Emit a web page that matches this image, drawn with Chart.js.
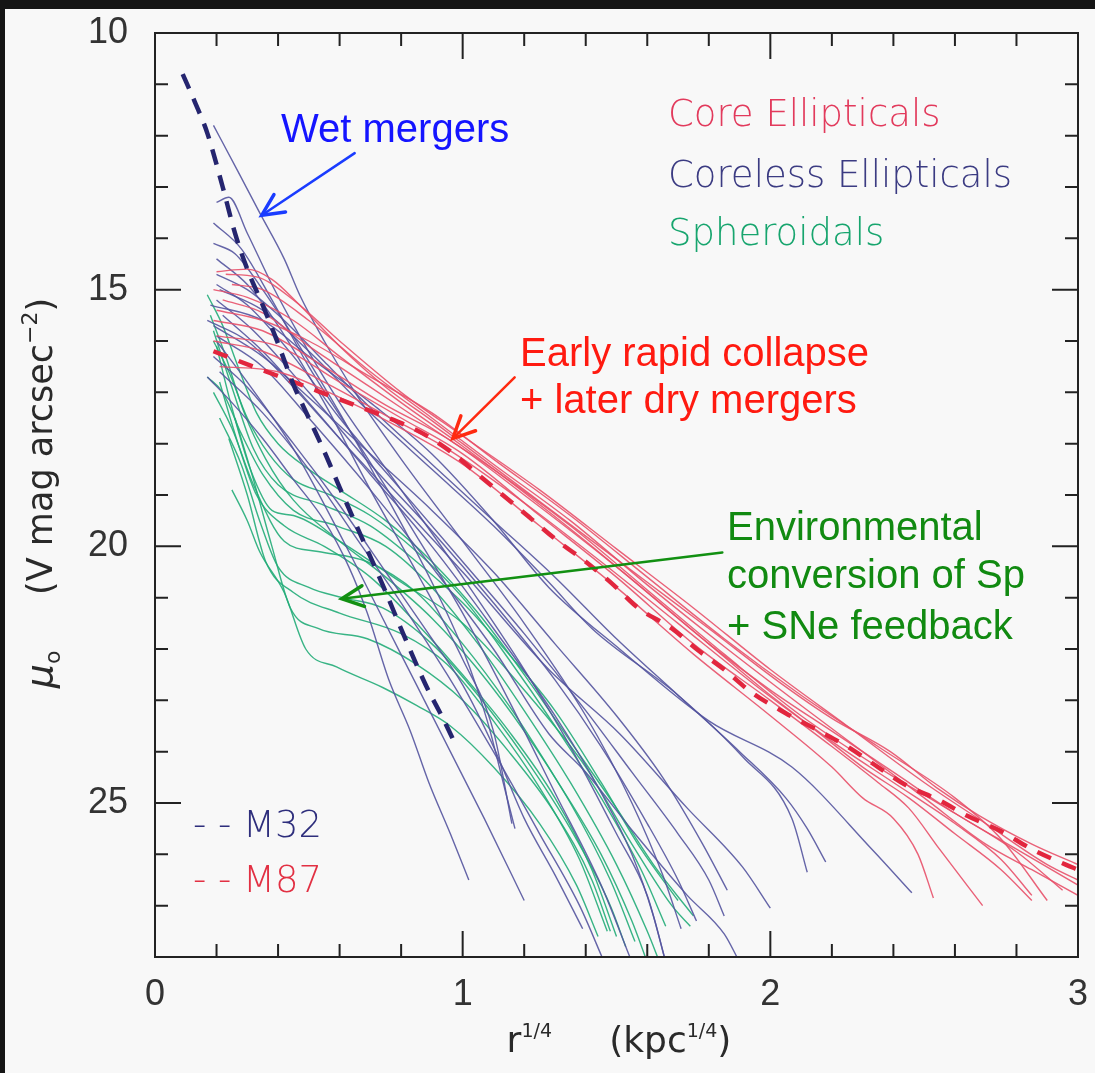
<!DOCTYPE html>
<html>
<head>
<meta charset="utf-8">
<script src="https://cdn.jsdelivr.net/npm/chart.js@4.4.1/dist/chart.umd.min.js"></script>
<style>
html, body { margin: 0; padding: 0; background: #151515; }
canvas { display: block; }
</style>
</head>
<body>
<canvas id="chart" width="1095" height="1073"></canvas>
<script>
// axis ticks
const xTicks = [0, 1, 2, 3];
const yTicks = [10, 15, 20, 25];

// dashed reference galaxies
const m32 = [[0.09,10.8],[0.13,11.35],[0.17,11.95],[0.22,13.0],[0.26,13.9],[0.3,14.6],[0.35,15.3],[0.4,16.05],[0.45,16.85],[0.5,17.5],[0.55,18.15],[0.6,18.85],[0.67,19.8],[0.74,20.75],[0.81,21.75],[0.88,22.7],[0.94,23.4],[0.98,23.9]];
const m87 = [[0.19,16.2],[0.32,16.5],[0.43,16.75],[0.54,17.0],[0.65,17.25],[0.76,17.5],[0.87,17.8],[0.96,18.15],[1.05,18.6],[1.14,19.05],[1.22,19.45],[1.31,19.9],[1.4,20.3],[1.49,20.75],[1.57,21.2],[1.68,21.6],[1.76,22.0],[1.85,22.4],[1.94,22.85],[2.05,23.25],[2.16,23.6],[2.25,23.9],[2.35,24.3],[2.44,24.65],[2.55,24.95],[2.64,25.25],[2.75,25.55],[2.85,25.9],[2.96,26.2],[3.0,26.3]];

// core ellipticals (red)
const coreEllipticals = [
  [[0.2,14.65],[0.3,14.6],[0.38,14.8],[0.47,15.3],[0.6,16.1],[0.75,16.9],[0.9,17.55],[1.0,18.0],[1.2,18.9],[1.4,19.8],[1.6,20.7],[1.8,21.6],[2.03,22.65],[2.2,23.35],[2.39,24.0],[2.54,24.7],[2.68,25.25],[2.85,25.8],[3.0,26.2]],
  [[0.19,15.0],[0.3,15.15],[0.45,15.6],[0.6,16.3],[0.8,17.2],[1.0,18.05],[1.2,18.95],[1.4,19.9],[1.6,20.9],[1.8,21.9],[2.0,22.8],[2.2,23.6],[2.4,24.4],[2.6,25.2],[2.8,25.9],[3.0,26.6]],
  [[0.19,15.6],[0.35,15.8],[0.55,16.5],[0.75,17.25],[0.95,17.9],[1.2,19.0],[1.5,20.4],[1.8,21.9],[2.0,22.9],[2.2,23.8],[2.4,24.6],[2.6,25.4],[2.75,26.1],[2.85,26.8]],
  [[0.2,15.9],[0.4,16.1],[0.6,16.8],[0.8,17.5],[1.0,18.2],[1.25,19.4],[1.5,20.6],[1.75,21.9],[2.0,23.0],[2.2,23.9],[2.35,24.6],[2.45,25.1],[2.55,25.9],[2.69,27.0]],
  [[0.21,16.5],[0.4,16.6],[0.6,17.1],[0.8,17.7],[1.0,18.4],[1.25,19.6],[1.5,20.8],[1.75,22.1],[2.0,23.3],[2.2,24.3],[2.3,24.9],[2.4,25.3],[2.48,26.0],[2.53,26.85]],
  [[0.22,15.2],[0.35,15.45],[0.5,16.1],[0.7,16.9],[0.9,17.7],[1.1,18.5],[1.35,19.6],[1.6,20.85],[1.85,22.1],[2.1,23.3],[2.35,24.3],[2.6,25.2],[2.8,25.95],[2.95,26.7]],
  [[0.2,15.4],[0.35,15.6],[0.5,16.0],[0.7,16.7],[0.9,17.4],[1.1,18.3],[1.35,19.4],[1.6,20.6],[1.85,21.8],[2.1,22.9],[2.35,23.9],[2.6,24.9],[2.75,25.7],[2.9,26.9]],
  [[0.25,14.9],[0.35,15.0],[0.5,15.6],[0.7,16.6],[0.9,17.5],[1.1,18.4],[1.35,19.5],[1.6,20.75],[1.85,21.95],[2.1,23.1],[2.3,24.0],[2.5,24.9],[2.7,25.8],[2.85,26.3],[3.0,26.8]],
  [[0.19,16.0],[0.35,16.2],[0.55,16.8],[0.75,17.45],[0.95,18.1],[1.2,19.15],[1.45,20.3],[1.7,21.5],[1.95,22.7],[2.15,23.6],[2.3,24.3],[2.45,24.9],[2.6,25.6],[2.75,26.3],[2.85,26.9]],
  [[0.23,14.7],[0.33,14.75],[0.45,15.2],[0.6,16.0],[0.8,17.0],[1.0,17.85],[1.25,18.9],[1.5,20.05],[1.75,21.2],[2.0,22.4],[2.25,23.5],[2.5,24.6],[2.7,25.4],[2.9,26.2],[3.0,26.5]]
];

// coreless ellipticals (blue)
const corelessEllipticals = [
  [[0.19,11.8],[0.27,12.7],[0.34,13.5],[0.42,14.4],[0.47,15.1],[0.55,16.0],[0.65,17.0],[0.8,18.3],[1.0,19.9],[1.2,21.5],[1.4,23.3],[1.55,25.0],[1.65,26.4],[1.71,27.45]],
  [[0.2,13.3],[0.24,13.2],[0.3,13.9],[0.38,14.9],[0.47,15.9],[0.6,17.2],[0.8,18.9],[1.0,20.6],[1.2,22.4],[1.35,23.9],[1.5,25.6],[1.6,26.8],[1.66,28.1]],
  [[0.19,13.7],[0.28,14.2],[0.38,15.2],[0.5,16.5],[0.65,17.9],[0.85,19.8],[1.0,21.3],[1.15,23.0],[1.3,24.8],[1.45,26.6],[1.55,28.1]],
  [[0.2,14.4],[0.3,14.9],[0.4,15.7],[0.55,17.2],[0.7,18.9],[0.85,20.5],[1.0,22.2],[1.1,23.6],[1.16,25.4]],
  [[0.2,14.7],[0.3,15.0],[0.42,15.6],[0.55,16.4],[0.7,17.3],[0.9,18.4],[1.1,19.5],[1.3,20.6],[1.5,21.8],[1.7,22.9],[1.9,24.0],[2.05,24.9],[2.12,25.5],[2.18,26.15]],
  [[0.21,15.0],[0.35,15.4],[0.5,16.2],[0.7,17.4],[0.9,18.5],[1.1,19.6],[1.28,20.7],[1.42,21.6],[1.7,22.9],[1.91,24.1],[2.07,25.3],[2.12,26.35]],
  [[0.18,15.3],[0.35,15.6],[0.5,16.3],[0.7,17.2],[0.9,18.2],[1.1,19.5],[1.28,20.8],[1.51,22.0],[1.8,23.4],[2.07,24.3],[2.33,25.9],[2.46,26.75]],
  [[0.17,15.6],[0.3,16.0],[0.45,16.9],[0.6,17.9],[0.8,19.2],[1.0,20.5],[1.28,22.4],[1.51,23.65],[1.73,25.1],[1.91,26.25],[2.0,27.05]],
  [[0.2,15.9],[0.35,16.5],[0.5,17.5],[0.7,18.9],[0.9,20.4],[1.1,22.0],[1.28,23.65],[1.4,24.4],[1.56,25.6],[1.73,26.8],[1.85,27.55],[1.9,28.1]],
  [[0.19,16.3],[0.3,16.9],[0.45,18.0],[0.6,19.2],[0.75,20.5],[0.9,21.8],[1.0,22.7],[1.1,23.9],[1.2,25.3],[1.3,26.4],[1.39,27.45]],
  [[0.2,16.0],[0.3,16.8],[0.45,18.1],[0.63,20.1],[0.74,21.4],[0.85,22.7],[0.96,24.0],[1.07,25.3],[1.2,26.9]],
  [[0.17,16.7],[0.25,17.2],[0.35,17.9],[0.45,18.7],[0.55,19.5],[0.63,20.4],[0.69,21.3],[0.76,22.6],[0.83,23.6],[0.89,24.6],[0.96,25.6],[1.02,26.5]],
  [[0.22,15.5],[0.35,16.2],[0.5,17.2],[0.7,18.6],[0.9,20.0],[1.1,21.6],[1.3,23.3],[1.45,24.8],[1.55,26.0],[1.62,27.2],[1.66,28.1]],
  [[0.2,15.2],[0.32,15.8],[0.5,17.0],[0.7,18.4],[0.9,19.7],[1.1,21.1],[1.3,22.6],[1.45,23.9],[1.6,25.4],[1.7,26.5],[1.76,27.3]],
  [[0.21,16.6],[0.35,17.4],[0.5,18.5],[0.65,19.8],[0.8,21.1],[0.95,22.5],[1.1,24.0],[1.25,25.6],[1.38,27.0],[1.46,28.1]],
  [[0.2,14.9],[0.3,15.3],[0.45,16.3],[0.6,17.5],[0.8,18.9],[1.0,20.3],[1.2,21.7],[1.4,23.2],[1.55,24.4],[1.7,25.6],[1.8,26.5],[1.85,27.2]],
  [[0.19,15.7],[0.35,16.3],[0.5,17.1],[0.7,18.2],[0.9,19.3],[1.1,20.5],[1.3,21.9],[1.5,23.3],[1.65,24.5],[1.78,25.8],[1.86,26.7]],
  [[0.19,14.1],[0.26,14.3],[0.35,15.0],[0.48,16.2],[0.6,17.4],[0.75,19.0],[0.9,20.7],[1.0,22.0],[1.08,23.4],[1.14,24.8],[1.17,25.5]]
];

// spheroidals (green)
const spheroidals = [
  [[0.17,15.1],[0.22,15.7],[0.27,16.5],[0.33,17.4],[0.4,18.0],[0.5,18.5],[0.6,18.9],[0.75,19.5],[0.9,20.3],[1.05,21.3],[1.2,22.5],[1.35,23.8],[1.5,25.1],[1.62,26.2],[1.75,27.2]],
  [[0.19,16.0],[0.24,16.6],[0.3,17.5],[0.37,18.2],[0.45,18.7],[0.57,19.0],[0.7,19.4],[0.85,20.1],[1.0,21.0],[1.15,22.2],[1.3,23.5],[1.45,24.9],[1.58,26.3],[1.66,27.4]],
  [[0.17,16.7],[0.22,17.0],[0.28,17.8],[0.35,18.6],[0.45,19.3],[0.59,19.6],[0.75,20.0],[0.9,20.8],[1.05,21.9],[1.2,23.2],[1.35,24.6],[1.5,26.2],[1.6,27.5],[1.64,28.1]],
  [[0.19,17.0],[0.25,17.7],[0.32,18.8],[0.42,19.9],[0.53,20.1],[0.69,20.3],[0.85,20.9],[1.0,21.9],[1.15,23.1],[1.3,24.5],[1.45,26.0],[1.55,27.3],[1.6,28.1]],
  [[0.21,17.5],[0.28,18.4],[0.34,19.5],[0.4,20.4],[0.5,20.8],[0.61,21.0],[0.74,21.2],[0.9,21.9],[1.05,22.9],[1.2,24.1],[1.35,25.5],[1.48,27.0],[1.53,27.8]],
  [[0.26,17.5],[0.32,18.7],[0.38,20.0],[0.44,21.2],[0.53,21.6],[0.69,21.8],[0.85,22.3],[1.0,23.0],[1.15,24.0],[1.3,25.2],[1.42,26.5],[1.48,27.5]],
  [[0.25,18.9],[0.3,19.5],[0.34,20.1],[0.42,20.9],[0.49,22.0],[0.59,22.35],[0.74,22.75],[0.85,23.1],[0.96,23.5],[1.1,24.3],[1.25,25.4],[1.37,26.6],[1.44,27.6]],
  [[0.18,15.5],[0.23,16.3],[0.29,17.4],[0.36,18.3],[0.45,19.1],[0.6,19.9],[0.75,20.6],[0.9,21.4],[1.05,22.4],[1.2,23.6],[1.35,25.0],[1.48,26.5],[1.56,27.7]],
  [[0.2,16.1],[0.25,17.3],[0.31,18.5],[0.38,19.3],[0.45,19.4],[0.6,19.9],[0.8,20.7],[1.0,21.5],[1.2,22.8],[1.4,24.3],[1.55,25.8],[1.68,27.0],[1.74,27.4]],
  [[0.21,16.8],[0.27,18.0],[0.33,19.0],[0.42,19.6],[0.55,20.0],[0.7,20.6],[0.85,21.5],[1.0,22.5],[1.15,23.6],[1.3,24.9],[1.42,26.3],[1.5,27.6]],
  [[0.24,17.9],[0.3,19.0],[0.36,20.3],[0.45,20.9],[0.6,21.3],[0.8,21.7],[0.95,22.3],[1.1,23.4],[1.25,24.7],[1.38,26.1],[1.47,27.5]],
  [[0.19,15.8],[0.25,16.9],[0.32,18.1],[0.4,18.8],[0.55,19.2],[0.7,19.6],[0.85,20.3],[1.0,21.1],[1.15,22.1],[1.3,23.2],[1.45,24.6],[1.58,25.9],[1.7,26.9]]
];

const redLine = 'rgba(232, 80, 105, 0.9)';
const blueLine = 'rgba(84, 84, 158, 0.9)';
const greenLine = 'rgba(34, 172, 120, 0.9)';

function toPoints(curve) {
  return curve.map(p => ({ x: p[0], y: p[1] }));
}

const datasets = [];
datasets.push({ label: 'M32', data: toPoints(m32), borderColor: '#25256f', borderWidth: 4.5, borderDash: [16, 11], order: 0 });
datasets.push({ label: 'M87', data: toPoints(m87), borderColor: '#e2263e', borderWidth: 4.5, borderDash: [15, 12], order: 0 });
for (const c of coreEllipticals) {
  datasets.push({ label: 'Core', data: toPoints(c), borderColor: redLine, borderWidth: 1.4, order: 1 });
}
for (const c of corelessEllipticals) {
  datasets.push({ label: 'Coreless', data: toPoints(c), borderColor: blueLine, borderWidth: 1.4, order: 2 });
}
for (const c of spheroidals) {
  datasets.push({ label: 'Sph', data: toPoints(c), borderColor: greenLine, borderWidth: 1.4, order: 3 });
}

// rich text: parts are [text, size, dy, italic]
function richWidth(c, parts, family) {
  let w = 0;
  for (const p of parts) {
    c.font = (p[3] ? 'italic ' : '') + p[1] + 'px ' + family;
    w += c.measureText(p[0]).width;
  }
  return w;
}
function richText(c, parts, x, y, family) {
  let cx = x - richWidth(c, parts, family) / 2;
  for (const p of parts) {
    c.font = (p[3] ? 'italic ' : '') + p[1] + 'px ' + family;
    c.fillText(p[0], cx, y + (p[2] || 0));
    cx += c.measureText(p[0]).width;
  }
}

function arrow(c, x1, y1, x2, y2, color) {
  c.save();
  c.strokeStyle = color;
  c.lineWidth = 2.5;
  c.lineCap = 'round';
  c.beginPath();
  c.moveTo(x1, y1);
  c.lineTo(x2, y2);
  c.stroke();
  const a = Math.atan2(y1 - y2, x1 - x2);
  const len = 24, spread = 0.45;
  c.beginPath();
  c.moveTo(x2 + len * Math.cos(a + spread), y2 + len * Math.sin(a + spread));
  c.lineTo(x2, y2);
  c.lineTo(x2 + len * Math.cos(a - spread), y2 + len * Math.sin(a - spread));
  c.lineWidth = 3.5;
  c.stroke();
  c.restore();
}

const panel = {
  id: 'panel',
  beforeDraw(chart) {
    const c = chart.ctx;
    c.save();
    c.fillStyle = '#151515';
    c.fillRect(0, 0, chart.width, chart.height);
    c.fillStyle = '#f8f8f8';
    c.fillRect(5, 9, chart.width - 5, chart.height - 9);
    c.restore();
  }
};

const frame = {
  id: 'frame',
  afterDraw(chart) {
    const c = chart.ctx;
    const xs = chart.scales.x, ys = chart.scales.y;
    const { left, right, top, bottom } = chart.chartArea;
    c.save();
    c.strokeStyle = '#222';
    c.lineWidth = 2;
    c.strokeRect(left, top, right - left, bottom - top);
    c.beginPath();
    for (let i = 0; i <= 15; i++) {
      const v = i * 0.2;
      const px = xs.getPixelForValue(v);
      const len = i % 5 === 0 ? 26 : 13;
      c.moveTo(px, bottom); c.lineTo(px, bottom - len);
      c.moveTo(px, top); c.lineTo(px, top + len);
    }
    for (let v = 10; v <= 28; v++) {
      const py = ys.getPixelForValue(v);
      const len = v % 5 === 0 ? 26 : 13;
      c.moveTo(left, py); c.lineTo(left + len, py);
      c.moveTo(right, py); c.lineTo(right - len, py);
    }
    c.stroke();

    const X = v => xs.getPixelForValue(v);
    const Y = v => ys.getPixelForValue(v);

    // category labels
    const legendFont = "'DejaVu Sans'";
    c.textBaseline = 'alphabetic';
    c.textAlign = 'left';
    c.font = '200 37px ' + legendFont;
    c.fillStyle = '#e23a5c';
    c.fillText('Core Ellipticals', 668, 126);
    c.fillStyle = '#3b3b82';
    c.fillText('Coreless Ellipticals', 668, 187);
    c.fillStyle = '#17a56e';
    c.fillText('Spheroidals', 668, 245);

    c.fillStyle = '#2e2e7c';
    c.fillText('- -', 193, 837);
    c.fillText('M32', 243, 837);
    c.fillStyle = '#e23043';
    c.fillText('- -', 193, 892);
    c.fillText('M87', 243, 892);

    // annotations
    c.font = "40px 'Liberation Sans', Arial, sans-serif";
    c.fillStyle = '#1414ff';
    c.fillText('Wet mergers', 281, 142);
    c.fillStyle = '#ff1a10';
    c.fillText('Early rapid collapse', 520, 366);
    c.fillText('+ later dry mergers', 520, 413);
    c.fillStyle = '#118a11';
    c.fillText('Environmental', 727, 540);
    c.fillText('conversion of Sp', 727, 588);
    c.fillText('+ SNe feedback', 727, 639);

    arrow(c, X(0.649), Y(12.34), X(0.347), Y(13.55), '#1a3cff');
    arrow(c, X(1.169), Y(16.71), X(0.968), Y(17.9), '#ff2a10');
    arrow(c, X(1.844), Y(20.12), X(0.607), Y(21.02), '#129012');

    // axis titles
    c.fillStyle = '#2a2a2a';
    richText(c, [['r', 36], ['1/4', 19, -15], ['     (kpc', 36], ['1/4', 19, -15], [')', 36]], 619, 1052, legendFont);
    c.save();
    c.translate(52, 493);
    c.rotate(-Math.PI / 2);
    richText(c, [['\u03bc', 38, 0, true], ['o', 22, 8], ['     (V mag arcsec', 35], ['\u22122', 22, -15], [')', 35]], 0, 0, legendFont);
    c.restore();
    c.restore();
  }
};

const ctx = document.getElementById('chart');
new Chart(ctx, {
  type: 'scatter',
  data: { datasets: datasets },
  options: {
    responsive: false,
    animation: false,
    devicePixelRatio: 1,
    showLine: true,
    layout: { padding: { left: 0, top: 33, right: 17, bottom: 0 } },
    elements: {
      point: { radius: 0, hoverRadius: 0 },
      line: { cubicInterpolationMode: 'monotone', fill: false }
    },
    plugins: { legend: { display: false }, tooltip: { enabled: false } },
    scales: {
      x: {
        type: 'linear', min: 0, max: 3,
        afterBuildTicks: s => { s.ticks = xTicks.map(v => ({ value: v })); },
        afterFit: s => { s.height = 116; },
        grid: { display: false, drawTicks: false },
        border: { display: false },
        ticks: { padding: 0, color: '#333', font: { family: "'Liberation Sans', Arial", size: 36, lineHeight: 2.11 } }
      },
      y: {
        type: 'linear', min: 10, max: 28, reverse: true,
        afterBuildTicks: s => { s.ticks = yTicks.map(v => ({ value: v })); },
        afterFit: s => { s.width = 155; },
        grid: { display: false, drawTicks: false },
        border: { display: false },
        ticks: { padding: 27, color: '#333', font: { family: "'Liberation Sans', Arial", size: 36, lineHeight: 0.2 } }
      }
    }
  },
  plugins: [panel, frame]
});
</script>
</body>
</html>
